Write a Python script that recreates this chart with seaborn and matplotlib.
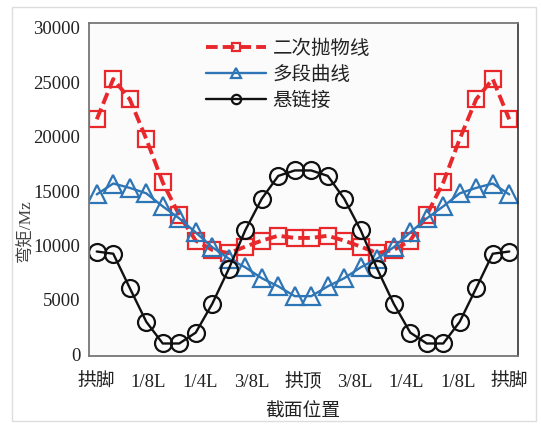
import matplotlib
matplotlib.use("Agg")
import matplotlib.pyplot as plt
import seaborn as sns
import numpy as np
import pandas as pd
from matplotlib.patches import Rectangle

# Section positions along the arch (26 evaluation sections)
n_sections = 26
tick_labels = ["拱脚", "1/8L", "1/4L", "3/8L", "拱顶", "3/8L", "1/4L", "1/8L", "拱脚"]

# Bending moment Mz for each arch axis shape
parabola = [21600, 25300, 23450, 19800, 15800, 12800, 10450, 9600, 9300, 9900, 10450, 10900, 10700,
            10700, 10900, 10450, 9900, 9300, 9600, 10450, 12800, 15800, 19800, 23450, 25300, 21600]
multi_seg = [14700, 15700, 15300, 14800, 13600, 12500, 11200, 9850, 8800, 8000, 7000, 6250, 5350,
             5350, 6250, 7000, 8000, 8800, 9850, 11200, 12500, 13600, 14800, 15300, 15700, 14700]
catenary = [9450, 9250, 6100, 3000, 1000, 1000, 2000, 4650, 7850, 11400, 14300, 16400, 16900,
            16900, 16400, 14300, 11400, 7850, 4650, 2000, 1000, 1000, 3000, 6100, 9250, 9450]

series_names = ["二次抛物线", "多段曲线", "悬链接"]

sns.set_theme(style="white")
plt.rcParams["font.family"] = ["Liberation Serif", "Noto Sans CJK SC", "DejaVu Sans"]

fig = plt.figure(figsize=(5.41, 4.25), dpi=100)
fig.patch.set_facecolor("white")
ax = fig.add_axes([88.5 / 541, 1 - 356 / 425, (517.5 - 88.5) / 541, (356 - 23) / 425])
ax.set_facecolor("#fbfbfb")

x = np.arange(n_sections)
df = pd.DataFrame({"pos": x, series_names[0]: parabola,
                   series_names[1]: multi_seg, series_names[2]: catenary})

styles = [
    dict(color="#e8282b", marker="s", linewidth=2.8, linestyle=(0, (3.0, 1.3)), markersize=11.5),
    dict(color="#2e75b6", marker="^", linewidth=1.7, linestyle="-", markersize=12.5),
    dict(color="#111111", marker="o", linewidth=1.7, linestyle="-", markersize=12.2),
]
for name, st in zip(series_names, styles):
    sns.lineplot(data=df, x="pos", y=name, ax=ax, label=name,
                 color=st["color"], linewidth=st["linewidth"], linestyle=st["linestyle"],
                 marker=st["marker"], markersize=st["markersize"],
                 markerfacecolor="none", markeredgecolor=st["color"], markeredgewidth=1.6)

ax.set_xlim(-0.5, n_sections - 0.5)
ax.set_ylim(-150, 30450)
ax.set_yticks(np.arange(0, 30001, 5000))
ax.set_xticks(np.linspace(0, n_sections - 1, len(tick_labels)))
ax.set_xticklabels(tick_labels)
ax.tick_params(axis="y", labelsize=13.5, length=0, pad=6, colors="#222222")
ax.tick_params(axis="x", labelsize=13.5, length=0, pad=13, colors="#222222")
ax.set_xlabel("截面位置", fontsize=13.5, labelpad=8, color="#222222")
ax.set_ylabel("弯矩/Mz", fontsize=12.5, color="#444444")
ax.yaxis.set_label_coords(-0.127, 0.375)

for side in ["left", "bottom", "top"]:
    ax.spines[side].set_color("#777777")
    ax.spines[side].set_linewidth(1.3)
ax.spines["right"].set_color("#333333")
ax.spines["right"].set_linewidth(1.2)

leg = ax.legend(loc="upper left", bbox_to_anchor=(0.232, 1.003), frameon=False,
                fontsize=14, handlelength=3.1, handletextpad=0.35, labelspacing=0.4,
                markerscale=0.55)
for t in leg.get_texts():
    t.set_color("#222222")

# light outer border around the figure
fig.patches.append(Rectangle((12 / 541, 1 - 421 / 425), (536 - 12) / 541, (421 - 7) / 425,
                             transform=fig.transFigure, fill=False,
                             edgecolor="#dddddd", linewidth=1.0))

fig.savefig("out.png", dpi=100)
